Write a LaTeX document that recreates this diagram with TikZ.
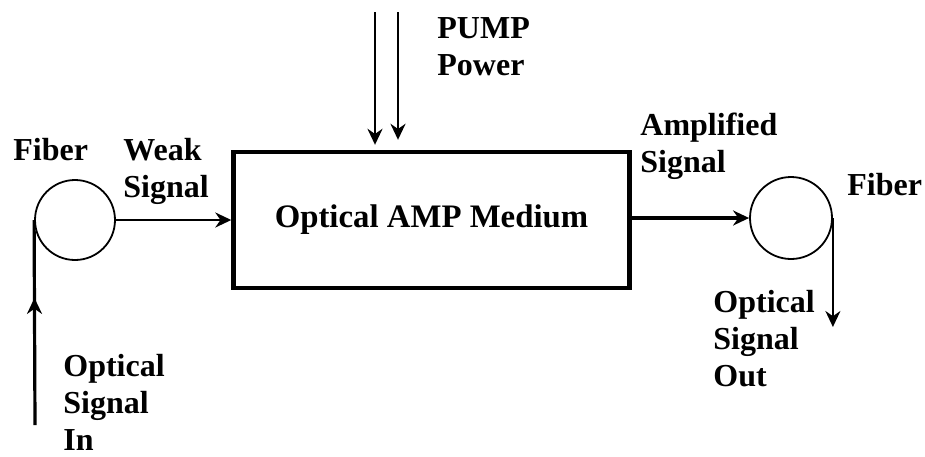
\documentclass[tikz,border=0pt]{standalone}
\usepackage{fontspec}
\setmainfont{Liberation Serif}
\usetikzlibrary{arrows.meta, positioning, decorations.markings}
\tikzset{
  bloc/.style={rectangle, draw, line width=2.2pt, minimum width=198pt,
    minimum height=68pt, inner sep=0pt, font=\fontsize{16.4}{18.5}\selectfont\bfseries},
  fibre/.style={circle, draw, line width=0.9pt, minimum size=40pt, inner sep=0pt},
  fleche/.style={-{Stealth[length=8pt, width=7.5pt]}, line width=1.3pt},
  flechemilieu/.style={line width=1.6pt, postaction={decorate},
    decoration={markings, mark=at position #1 with {\arrow{Stealth[length=8pt, width=7.5pt]}}}},
  etiquette/.style={anchor=north west, inner sep=0pt, align=left,
    font=\fontsize{16}{18.5}\selectfont\bfseries}
}

\begin{document}
\begin{tikzpicture}[x=0.5pt, y=-0.5pt]
    \useasboundingbox (0,0) rectangle (925,456);

    % Milieu amplificateur et fibres
    \node[bloc] (amp) at (431.5,220) {Optical AMP Medium};
    \node[fibre] (fibin) at (75,220) {};
    \node[fibre, minimum size=41pt] (fibout) at (791,218) {};

    % Signal
    \coordinate (entree) at (35,425);
    \draw[flechemilieu=0.62] (entree) -- (fibin.west);
    \draw[fleche] (fibin.east) -- (amp.west);
    \draw[fleche, line width=1.6pt] (amp.east |- fibout.west) -- (fibout.west);
    \path (fibout.east) ++(0,109) coordinate (sortie);
    \draw[fleche, line width=1.1pt] (fibout.east) -- (sortie);

    % Pompe
    \coordinate (pompe1) at (375,12);
    \coordinate (pompe2) at (398,12);
    \draw[fleche, shorten >=2.5pt] (pompe1) -- (pompe1 |- amp.north);
    \draw[fleche, shorten >=5pt] (pompe2) -- (pompe2 |- amp.north);

    % Etiquettes
    \node[etiquette] (lfibin) at (13,138) {Fiber};
    \node[etiquette] (lfaible) at (123,138) {Weak\\Signal};
    \node[etiquette] (lpompe) at (437,17) {PUMP\\Power};
    \node[etiquette] (lampli) at (640,113) {Amplified\\Signal};
    \node[etiquette] (lfibout) at (847,173) {Fiber};
    \node[etiquette] (lsortie) at (713,290) {Optical\\Signal\\Out};
    \node[etiquette] (lentree) at (63,354) {Optical\\Signal\\In};
\end{tikzpicture}
\end{document}
